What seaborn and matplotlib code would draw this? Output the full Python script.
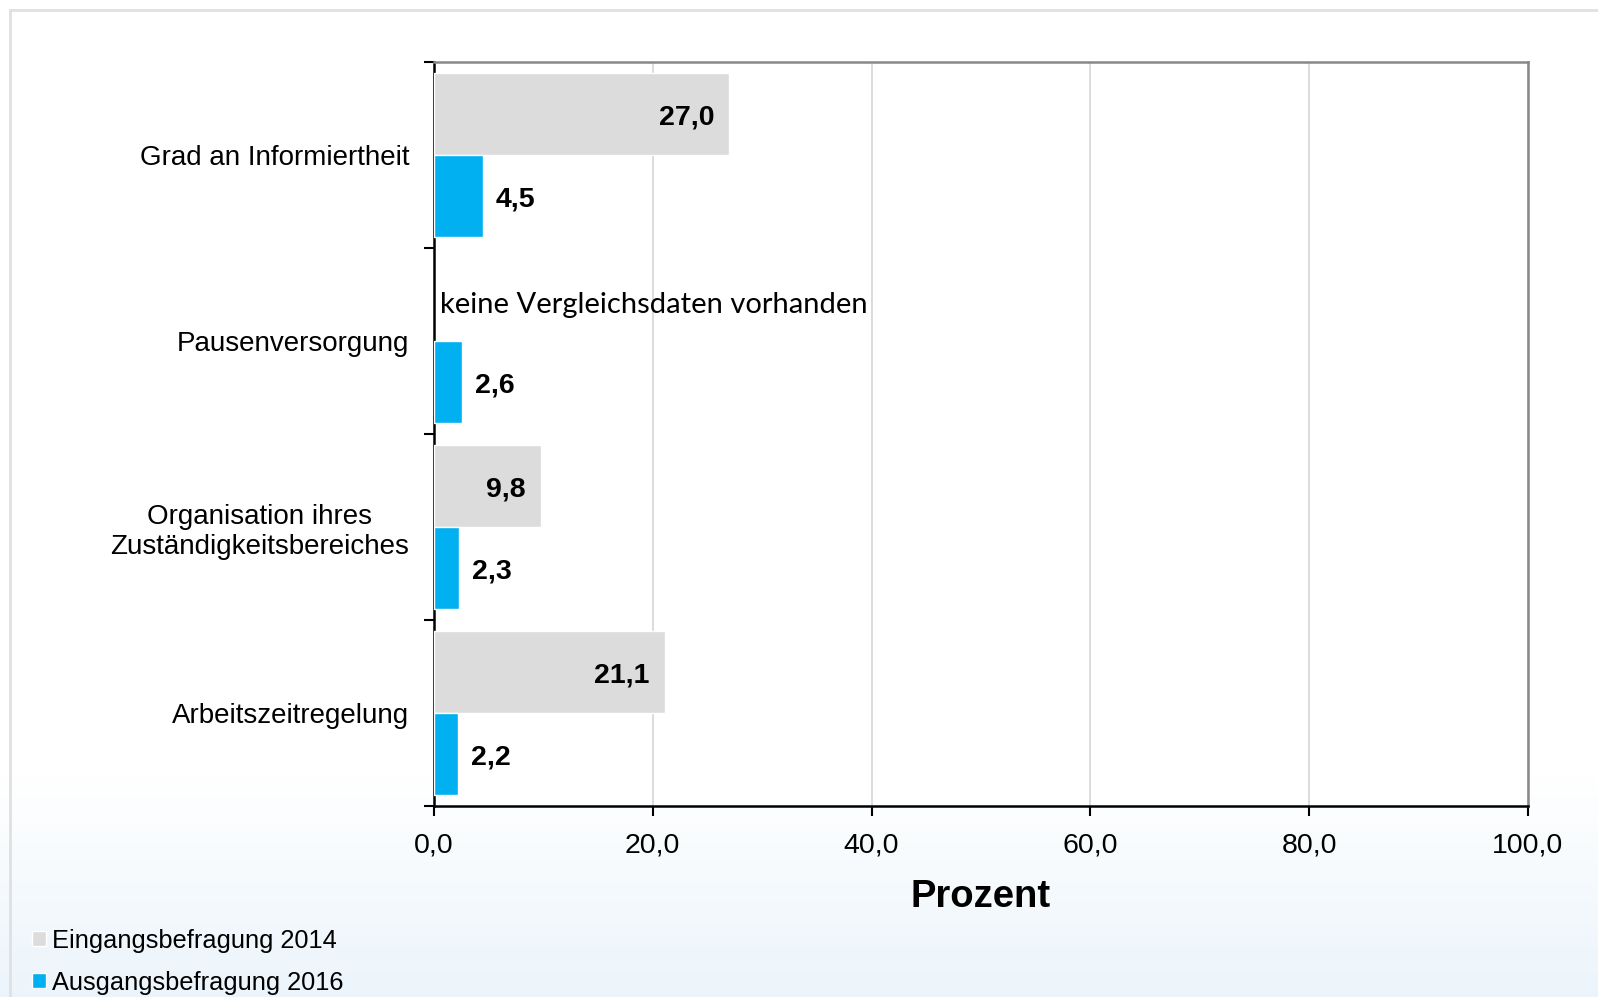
import matplotlib
matplotlib.use("Agg")
import matplotlib.pyplot as plt
import matplotlib.ticker as mticker
from matplotlib.patches import Rectangle
import numpy as np
import seaborn as sns
import pandas as pd

categories = ['Grad an Informiertheit', 'Pausenversorgung',
              'Organisation ihres\nZuständigkeitsbereiches', 'Arbeitszeitregelung']
eingang_2014 = [27.0, np.nan, 9.8, 21.1]
ausgang_2016 = [4.5, 2.6, 2.3, 2.2]
series_names = ['Eingangsbefragung 2014', 'Ausgangsbefragung 2016']
colors = ['#dcdcdc', '#00b0f0']
x_ticks = [0, 20, 40, 60, 80, 100]

df = pd.DataFrame({
    'Kategorie': categories * 2,
    'Prozent': eingang_2014 + ausgang_2016,
    'Serie': [series_names[0]] * 4 + [series_names[1]] * 4,
})

sns.set_style("white")
plt.rcParams['font.family'] = ['Liberation Sans', 'DejaVu Sans']
plt.rcParams['text.color'] = 'black'
plt.rcParams['xtick.color'] = 'black'
plt.rcParams['ytick.color'] = 'black'
plt.rcParams['axes.labelcolor'] = 'black'

fig = plt.figure(figsize=(15.98, 9.97), dpi=100)

# background with soft gradient at the bottom
bg = fig.add_axes([0, 0, 1, 1], zorder=-10)
grad = np.ones((200, 1, 3))
top = np.array([1.0, 1.0, 1.0])
bot = np.array([0.925, 0.96, 0.985])
for i in range(200):
    f = i / 199  # 0 top, 1 bottom
    t = max(0.0, (f - 0.78) / 0.22)
    grad[i, 0] = top * (1 - t) + bot * t
bg.imshow(grad, aspect='auto', extent=[0, 1, 0, 1])
bg.set_xlim(0, 1)
bg.set_ylim(0, 1)
bg.axis('off')
fig.add_artist(Rectangle((10 / 1598, -0.1), 1.2, 1 - 10 / 997 + 0.1, transform=fig.transFigure,
                         fill=False, edgecolor='#e0e0e0', linewidth=2))

ax = fig.add_axes([434 / 1598, 1 - 806 / 997, (1528 - 434) / 1598, (806 - 62) / 997])
sns.barplot(data=df, x='Prozent', y='Kategorie', hue='Serie', hue_order=series_names,
            order=categories, palette=colors, orient='h', width=0.88, errorbar=None,
            saturation=1, ax=ax, legend=True, zorder=3)

ax.set_xlim(0, 100)
ax.set_ylim(3.5, -0.5)
ax.set_xticks(x_ticks)
ax.xaxis.set_major_formatter(mticker.FuncFormatter(lambda v, p: f"{v:.1f}".replace('.', ',')))
ax.grid(axis='x', color='#d9d9d9', linewidth=1.3, zorder=0)
ax.set_axisbelow(True)
ax.tick_params(axis='x', direction='out', length=7, width=1.5, color='black',
               labelsize=20.5, pad=12, bottom=True)
ax.set_yticks(range(len(categories)))
ax.set_yticklabels(categories)
ax.tick_params(axis='y', which='major', length=0, labelsize=20, pad=18)
for lab in ax.get_yticklabels():
    lab.set_multialignment('center')
    lab.set_linespacing(1.2)
ax.set_yticks(np.arange(-0.5, len(categories), 1), minor=True)
ax.tick_params(axis='y', which='minor', direction='out', length=7, width=1.5,
               color='black', left=True)

for s in ['left', 'bottom']:
    ax.spines[s].set_color('black')
    ax.spines[s].set_linewidth(1.8)
for s in ['top', 'right']:
    ax.spines[s].set_color('#888888')
    ax.spines[s].set_linewidth(1.8)

ax.set_ylabel('')
ax.set_xlabel('Prozent', fontsize=27.5, fontweight='bold', labelpad=15)

# value labels
for ci, cont in enumerate(ax.containers):
    for bar in cont:
        w = bar.get_width()
        if not np.isfinite(w) or w <= 0:
            continue
        yc = bar.get_y() + bar.get_height() / 2
        txt = f"{w:.1f}".replace('.', ',')
        if ci == 0:
            ax.annotate(txt, (w, yc), xytext=(-11, -2.5), textcoords='offset points',
                        ha='right', va='center', fontsize=20.5, fontweight='bold', zorder=5)
        else:
            ax.annotate(txt, (w, yc), xytext=(9, -2.5), textcoords='offset points',
                        ha='left', va='center', fontsize=20.5, fontweight='bold', zorder=5)

ax.text(0.55, 1 - 0.195, 'keine Vergleichsdaten vorhanden', ha='left', va='center',
        fontsize=21, family=['Lato', 'DejaVu Sans'])

handles, labels = ax.get_legend_handles_labels()
ax.get_legend().remove()
fig.legend(handles, labels, loc='lower left', bbox_to_anchor=(22 / 1598, -8 / 997),
           frameon=False, fontsize=18.3, handlelength=0.55, handleheight=0.55,
           handletextpad=0.25, labelspacing=0.72, borderaxespad=0)

fig.savefig('out.png', dpi=100)
